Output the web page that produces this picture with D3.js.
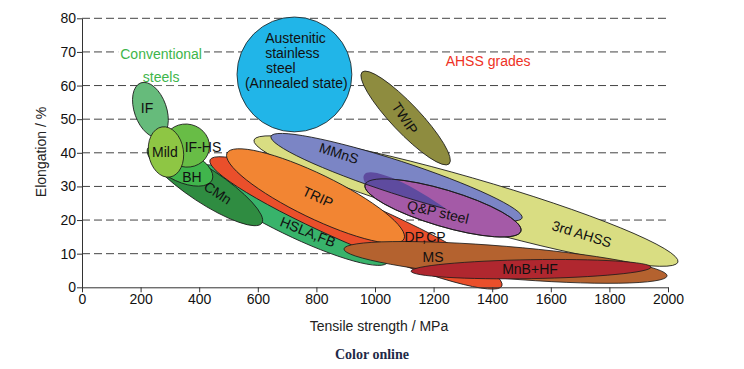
<!DOCTYPE html>
<html><head><meta charset="utf-8">
<script src="https://cdn.jsdelivr.net/npm/d3@7"></script>
<style>
body{margin:0;background:#fff}
svg{display:block}
</style>
</head><body>
<svg id="c" width="744" height="369"></svg>
<script>
// ---- data (tensile strength MPa, elongation %) ----
const xTicks = [0,200,400,600,800,1000,1200,1400,1600,1800,2000];
const yTicks = [0,10,20,30,40,50,60,70,80];

// ellipse families, drawn in this order; each is given by the two ends of its long axis
const grades   = ["3rd AHSS","TWIP","MMnS","Q&P steel","HSLA,FB","DP,CP","TRIP","CMn","MS","MnB+HF","IF","BH","IF-HS","Mild","Austenitic"];
const tsStart  = [587, 956, 645, 966, 386, 437, 495, 225, 894, 1123, 201, 239, 280, 273, 529];
const elStart  = [43.8,64.0,44.9,30.5,35.5,37.9,39.9,41.4,11.4,4.8, 60.8,40.2,43.8,47.7,63.3];
const tsEnd    = [2034,1253,1502,1498,1044,1433,1099,614, 1997,1942,266, 444, 433, 300, 921];
const elEnd    = [7.5, 36.7,20.6,16.7,7.5, 0.4, 14.4,19.1,3.4, 6.0, 44.7,31.9,40.5,32.8,63.3];
const spread   = [0.109,0.225,0.125,0.225,0.186,0.138,0.224,0.25,0.099,0.079,0.56,0.48,0.93,0.69,1.0];
const fills    = ["#d9dd82","#8e8c3f","#7b85c5","#a45aa7","#38b36b","#ea4f2b","#f28533","#2f8c41","#b4622f","#b0272f","#66bb7b","#40b54c","#68bd46","#8ec644","#21b5e8"];
const overlapFill = "#5e4b9f";

// labels inside the chart
const labelText = ["IF","Mild","IF-HS","BH","CMn","TRIP","HSLA,FB","DP,CP","MS","MnB+HF","3rd AHSS","Q&P steel","MMnS","TWIP"];
const labelTs   = [222, 283, 413, 375, 464, 805, 771, 1171,1198,1529,1706,1215,877, 1102];
const labelEl   = [53.3,40.2,41.7,32.8,28.1,26.9,16.5,15.0,9.0, 5.4, 15.9,22.4,39.9,50.3];
const labelRot  = [0,0,0,0,33,25,22,0,0,0,17,13,18,56];

const austLines = ["Austenitic","stainless","steel","(Annealed state)"];
const austTs    = [625,625,628,556];
const austEl    = [72.7,68.2,63.8,59.3];

const groupText = ["Conventional","steels","AHSS grades"];
const groupTs   = [270,270,1386];
const groupEl   = [67.9,61.0,65.8];
const groupCol  = ["#3db54a","#3db54a","#ee3124"];

// ---- drawing ----
const SANS = "'Liberation Sans',Arial,Helvetica,sans-serif";
const svg = d3.select("#c");
const x = d3.scaleLinear().domain([0,2000]).range([82,668]);
const y = d3.scaleLinear().domain([0,80]).range([287.3,18.3]);

// grid
svg.append("g").selectAll("line").data(yTicks.filter(d=>d>0)).join("line")
  .attr("x1",x(0)).attr("x2",x(2000)).attr("y1",d=>y(d)).attr("y2",d=>y(d))
  .attr("stroke","#444").attr("stroke-width",1).attr("stroke-dasharray","8,4");

// group titles with white boxes
const gt = svg.append("g");
groupText.forEach((t,i)=>{
  const tx = gt.append("text").attr("x",x(groupTs[i])).attr("y",y(groupEl[i]))
    .attr("text-anchor","middle").style("font-family",SANS).style("font-size","14px").attr("fill",groupCol[i]).text(t);
  const b = tx.node().getBBox();
  gt.insert("rect","text").attr("x",b.x-2).attr("y",b.y).attr("width",b.width+4).attr("height",b.height).attr("fill","#fff");
});

// ellipses
const ells = grades.map((g,i)=>{
  const p1=[x(tsStart[i]),y(elStart[i])], p2=[x(tsEnd[i]),y(elEnd[i])];
  const dx=p2[0]-p1[0], dy=p2[1]-p1[1];
  const rx=Math.hypot(dx,dy)/2;
  return {name:g, cx:(p1[0]+p2[0])/2, cy:(p1[1]+p2[1])/2, rx, ry:rx*spread[i], a:Math.atan2(dy,dx)*180/Math.PI, fill:fills[i]};
});
const eg = svg.append("g");
function drawEll(sel, e){
  return sel.append("ellipse").attr("cx",e.cx).attr("cy",e.cy).attr("rx",e.rx).attr("ry",e.ry)
    .attr("transform",`rotate(${e.a},${e.cx},${e.cy})`);
}
const defs = svg.append("defs");
ells.forEach(e=>{
  drawEll(eg,e).attr("fill",e.fill).attr("stroke","#1a1a1a").attr("stroke-width",0.8);
  if(e.name==="Q&P steel"){
    const mm = ells.find(d=>d.name==="MMnS");
    drawEll(defs.append("clipPath").attr("id","qp"), e);
    drawEll(eg,mm).attr("fill",overlapFill).attr("stroke","#1a1a1a").attr("stroke-width",0.8).attr("clip-path","url(#qp)");
    drawEll(eg,e).attr("fill","none").attr("stroke","#1a1a1a").attr("stroke-width",0.8);
  }
});

// axes
const xa = svg.append("g").attr("transform",`translate(0,${y(0)})`)
  .call(d3.axisBottom(x).tickValues(xTicks).tickFormat(d3.format("d")).tickSize(5).tickSizeOuter(0).tickPadding(2));
const ya = svg.append("g").attr("transform",`translate(${x(0)},0)`)
  .call(d3.axisLeft(y).tickValues(yTicks).tickFormat(d3.format("d")).tickSize(5).tickSizeOuter(0).tickPadding(1));
[xa,ya].forEach(a=>{
  a.selectAll("path,line").attr("stroke","#333");
  a.selectAll("text").style("font-size","14px").attr("fill","#111").style("font-family",SANS);
});

// labels
const lg = svg.append("g");
labelText.forEach((t,i)=>{
  const px=x(labelTs[i]), py=y(labelEl[i]);
  lg.append("text").attr("x",px).attr("y",py).attr("dy","0.36em").attr("text-anchor","middle")
    .style("font-family",SANS).style("font-size","14px").attr("fill","#111")
    .attr("transform",`rotate(${labelRot[i]},${px},${py})`).text(t);
});
austLines.forEach((t,i)=>{
  lg.append("text").attr("x",x(austTs[i])).attr("y",y(austEl[i]))
    .style("font-family",SANS).style("font-size","14px").attr("fill","#111").text(t);
});

// titles
svg.append("text").attr("x",379).attr("y",331).attr("text-anchor","middle").style("font-family",SANS).style("font-size","14px").attr("fill","#222").text("Tensile strength / MPa");
svg.append("text").attr("transform","translate(46,152) rotate(-90)").attr("text-anchor","middle").style("font-family",SANS).style("font-size","14px").attr("fill","#222").text("Elongation / %");
svg.append("text").attr("x",372).attr("y",359).attr("text-anchor","middle").style("font-size","14px").style("font-weight","bold")
  .style("font-family","'Liberation Serif','Times New Roman',serif").attr("fill","#1f2a48").text("Color online");
</script>
</body></html>
